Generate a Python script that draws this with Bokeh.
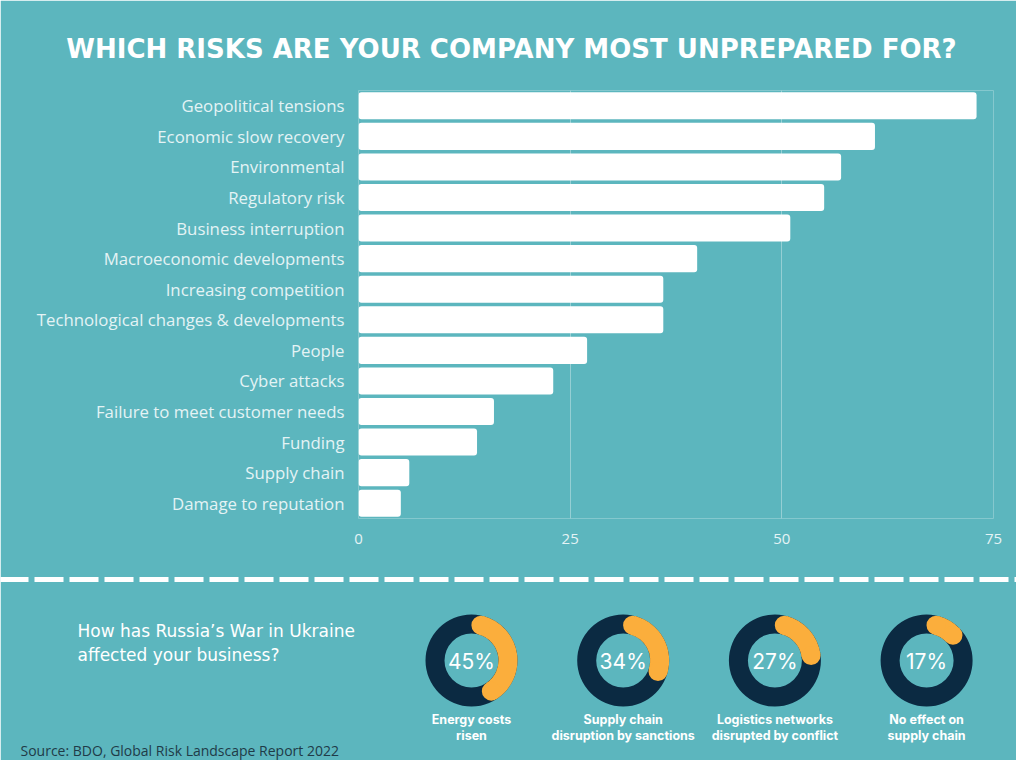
import numpy as np
from bokeh.plotting import figure
from bokeh.models import Range1d, FixedTicker, ColumnDataSource
from bokeh.embed import file_html
from bokeh.resources import INLINE
from bokeh.core.properties import value

# ---------------- data ----------------
risks = ["Geopolitical tensions", "Economic slow recovery", "Environmental",
         "Regulatory risk", "Business interruption", "Macroeconomic developments",
         "Increasing competition", "Technological changes & developments", "People",
         "Cyber attacks", "Failure to meet customer needs", "Funding",
         "Supply chain", "Damage to reputation"]
scores = [73, 61, 57, 55, 51, 40, 36, 36, 27, 23, 16, 14, 6, 5]
x_ticks = [0, 25, 50, 75]

war_effects = ["Energy costs\nrisen", "Supply chain\ndisruption by sanctions",
               "Logistics networks\ndisrupted by conflict", "No effect on\nsupply chain"]
war_pct = [45, 34, 27, 17]

title_text = "WHICH RISKS ARE YOUR COMPANY MOST UNPREPARED FOR?"
question_text = "How has Russia\u2019s War in Ukraine\naffected your business?"
source_text = "Source: BDO, Global Risk Landscape Report 2022"

# ---------------- styles ----------------
BG = "#5CB6BE"
DARK = "#0B2A42"
ORANGE = "#FBAE3C"
LIGHT = "#E4F3F5"

n = len(risks)
rows = list(range(n))

# figure 1016x760; frame occupies x 358..993, y 90..518
p = figure(width=1016, height=760, y_range=Range1d(n - 0.5, -0.5),
           x_range=Range1d(0, 75), output_backend="svg", toolbar_location=None,
           min_border_left=358, min_border_right=23, min_border_top=90,
           min_border_bottom=242)
p.background_fill_color = BG
p.border_fill_color = BG
p.outline_line_color = None
# pixel ranges for the decorative parts of the infographic
p.extra_x_ranges = {"px": Range1d(358, 993)}
p.extra_y_ranges = {"px": Range1d(518, 90)}

src = ColumnDataSource(dict(row=rows, score=scores))
p.hbar(y="row", right="score", left=0, height=0.885, source=src,
       fill_color="white", line_color=None, border_radius=3)
p.ygrid.visible = False
p.xgrid.ticker = FixedTicker(ticks=x_ticks[1:])
p.xgrid.grid_line_color = "white"
p.xgrid.grid_line_alpha = 0.35
p.xaxis.ticker = FixedTicker(ticks=x_ticks)
p.yaxis.ticker = FixedTicker(ticks=rows)
p.yaxis.major_label_overrides = {i: name for i, name in zip(rows, risks)}
for ax in (p.xaxis[0], p.yaxis[0]):
    ax.axis_line_color = None
    ax.major_tick_line_color = None
    ax.minor_tick_line_color = None
    ax.major_label_text_color = LIGHT
    ax.major_label_text_font = "Open Sans"
p.yaxis.major_tick_out = 0
p.yaxis.major_tick_in = 0
p.yaxis.major_label_text_font_size = "16.8px"
p.yaxis.major_label_standoff = 14
p.xaxis.major_label_text_font_size = "15px"
p.xaxis.major_label_standoff = 9

deco = dict(x_range_name="px", y_range_name="px", level="overlay")

# title
p.text(x=[511], y=[48], text=[title_text], text_align="center",
       text_baseline="middle", text_color="white", text_font=value("DejaVu Sans"),
       text_font_style="bold", text_font_size="26px", **deco)

# dashed separator
p.line(x=[0, 1016], y=[579, 579], line_color="white", line_width=5,
       line_dash="29 6", line_dash_offset=1, **deco)

# donuts: dark ring + orange arc with round caps (arc incl. caps spans pct of circle)
cx0, dx, cy = 471, 151.7, 660
r_in, r_out = 27, 46
cxs = np.array([cx0 + i * dx for i in range(len(war_pct))])
rm, rc = (r_in + r_out) / 2, (r_out - r_in) / 2
inset = rc / rm
frac = np.array(war_pct) / 100.0
a_end = np.full(len(war_pct), np.pi / 2) - inset
a_start = np.pi / 2 - frac * 2 * np.pi + inset
ys = np.full(len(war_pct), cy)
p.annulus(x=cxs, y=ys, inner_radius=r_in, outer_radius=r_out,
          fill_color=DARK, line_color=None, **deco)
p.annular_wedge(x=cxs, y=ys, inner_radius=r_in, outer_radius=r_out,
                start_angle=a_start, end_angle=a_end, direction="anticlock",
                fill_color=ORANGE, line_color=None, **deco)
for ang in (a_start, a_end):
    p.annulus(x=cxs + rm * np.cos(ang), y=cy - rm * np.sin(ang),
              inner_radius=0, outer_radius=rc, fill_color=ORANGE, line_color=None,
              **deco)
p.text(x=cxs, y=ys + 1, text=[f"{v}%" for v in war_pct], text_align="center",
       text_baseline="middle", text_color="white", text_font=value("Inter"),
       text_font_size="21px", **deco)
p.text(x=cxs, y=np.full(len(war_pct), 711), text=war_effects, text_align="center",
       text_baseline="top", text_color="white", text_font=value("Inter"),
       text_font_style="bold", text_font_size="12.5px", text_line_height=1.1, **deco)

# question and source
p.text(x=[77], y=[620], text=[question_text], text_align="left",
       text_baseline="top", text_color="white", text_font=value("DejaVu Sans"),
       text_font_size="17px", text_line_height=1.22, **deco)
p.text(x=[20], y=[750], text=[source_text], text_align="left",
       text_baseline="middle", text_color="#1F3B48", text_font=value("Open Sans"),
       text_font_size="14px", **deco)

open("out.html", "w").write(file_html(p, INLINE))
